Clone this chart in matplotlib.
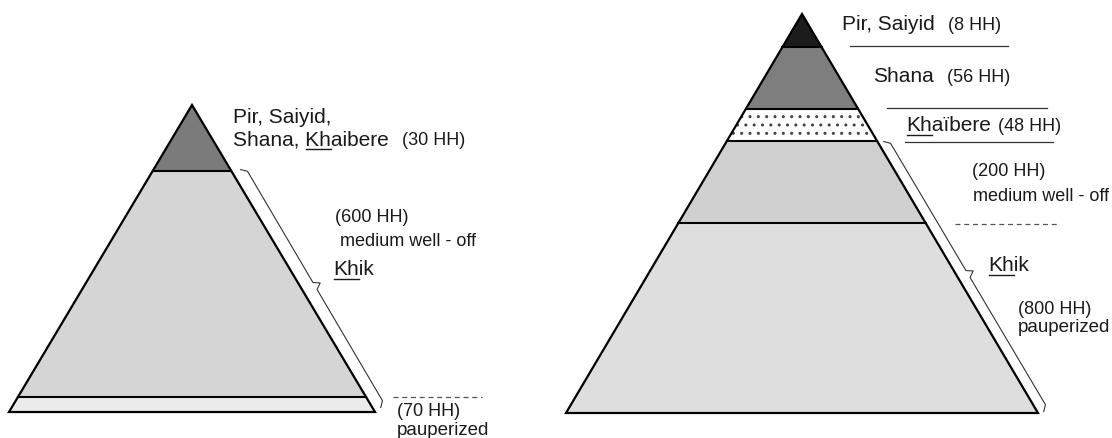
import matplotlib.pyplot as plt
from matplotlib.patches import Polygon

plt.rcParams['font.family'] = ['Liberation Sans', 'DejaVu Sans']

# layers from top to bottom, with household counts
left_groups = ["Pir, Saiyid,\nShana, Khaibere", "medium well - off", "pauperized"]
left_hh = [30, 600, 70]
left_cuts = [0.0, 0.215, 0.951, 1.0]          # layer boundaries as share of pyramid height
left_colors = ["#7b7b7b", "#d5d5d5", "#ececec"]

right_groups = ["Pir, Saiyid", "Shana", "Khaïbere", "medium well - off", "pauperized"]
right_hh = [8, 56, 48, 200, 800]
right_cuts = [0.0, 0.083, 0.238, 0.318, 0.524, 1.0]
right_colors = ["#1c1c1c", "#7e7e7e", "white", "#d0d0d0", "#dedede"]
right_hatch = [None, None, "..", None, None]

W, H = 1112, 439
fig = plt.figure(figsize=(W / 100, H / 100), dpi=100)
ax = fig.add_axes([0, 0, 1, 1])
ax.set_xlim(0, W)
ax.set_ylim(H, 0)
ax.axis("off")


def pyramid(apex_x, apex_y, base_y, half_w, cuts, colors, hatches=None):
    h = base_y - apex_y
    for i in range(len(cuts) - 1):
        f0, f1 = cuts[i], cuts[i + 1]
        y0, y1 = apex_y + f0 * h, apex_y + f1 * h
        pts = [(apex_x - f0 * half_w, y0), (apex_x + f0 * half_w, y0),
               (apex_x + f1 * half_w, y1), (apex_x - f1 * half_w, y1)]
        hatch = hatches[i] if hatches else None
        ax.add_patch(Polygon(pts, closed=True, facecolor=colors[i], edgecolor="#444444" if hatch else "none",
                             hatch=hatch, lw=0, zorder=1))
        if 0 < f1 < 1:
            ax.plot([apex_x - f1 * half_w, apex_x + f1 * half_w], [y1, y1], color="black", lw=1.5, zorder=3)
    ax.add_patch(Polygon([(apex_x, apex_y), (apex_x + half_w, base_y), (apex_x - half_w, base_y)],
                         closed=True, fill=False, edgecolor="black", lw=1.6, zorder=4))


def brace(x0, y0, x1, y1, tip=6):
    dx, dy = x1 - x0, y1 - y0
    L = (dx ** 2 + dy ** 2) ** 0.5
    dx, dy = dx / L, dy / L
    nx, ny = dy, -dx  # outward (to the right of the slope)
    mx, my = (x0 + x1) / 2, (y0 + y1) / 2
    xs = [x0 - nx * 5, x0 + dx * 5, mx - dx * 4, mx + nx * tip, mx + dx * 4, x1 - dx * 5, x1 - nx * 5]
    ys = [y0 - ny * 5, y0 + dy * 5, my - dy * 4, my + ny * tip, my + dy * 4, y1 - dy * 5, y1 - ny * 5]
    ax.plot(xs, ys, color="#333333", lw=0.8, zorder=3)


def text_width(s, size):
    r = fig.canvas.get_renderer()
    tmp = ax.text(0, 0, s, fontsize=size)
    w = tmp.get_window_extent(r).width
    tmp.remove()
    return w


def label(x, y, s, size=13, under=None):
    ax.text(x, y, s, fontsize=size, va="center", ha="left", color="#1a1a1a")
    if under:
        i = s.index(under)
        x0 = x + (text_width(s[:i], size) if i else 0)
        x1 = x + text_width(s[:i + len(under)], size)
        yy = y + size * 0.66
        ax.plot([x0 + 1, x1], [yy, yy], color="#1a1a1a", lw=1.0)


# ---- left pyramid ----
pyramid(192, 106, 413, 183, left_cuts, left_colors)
brace(245, 168, 385, 406)

lines = left_groups[0].split("\n")
label(233, 118, lines[0], 15)
label(233, 140, lines[1], 15, under="Kh")
label(402, 141, f"({left_hh[0]} HH)", 13)
label(335, 218, f"({left_hh[1]} HH)", 13)
label(340, 242, left_groups[1], 13)
label(333, 270, "Khik", 15, under="Kh")
ax.plot([393, 482], [398, 398], color="#555555", lw=0.9, ls=(0, (4, 3)))
label(397, 412, f"({left_hh[2]} HH)", 13)
label(397, 431, left_groups[2], 13.5)

# ---- right pyramid ----
pyramid(802, 15, 414, 236, right_cuts, right_colors, right_hatch)
brace(888, 140, 1048, 410)

label(842, 25, right_groups[0], 15)
label(948, 26, f"({right_hh[0]} HH)", 13)
ax.plot([850, 1008], [47, 47], color="#333333", lw=0.9)
label(873, 77, right_groups[1], 15)
label(947, 78, f"({right_hh[1]} HH)", 13)
ax.plot([887, 1047], [109, 109], color="#333333", lw=0.9)
label(906, 126, right_groups[2], 15, under="Kh")
label(998, 127, f"({right_hh[2]} HH)", 13)
ax.plot([905, 1053], [143, 143], color="#333333", lw=0.9)
label(972, 172, f"({right_hh[3]} HH)", 13)
label(973, 197, right_groups[3], 13)
ax.plot([955, 1057], [225, 225], color="#555555", lw=0.9, ls=(0, (4, 3)))
label(988, 266, "Khik", 15, under="Kh")
label(1018, 310, f"({right_hh[4]} HH)", 13)
label(1018, 328, right_groups[4], 13.5)

fig.savefig("out.png", dpi=100, facecolor="white")
